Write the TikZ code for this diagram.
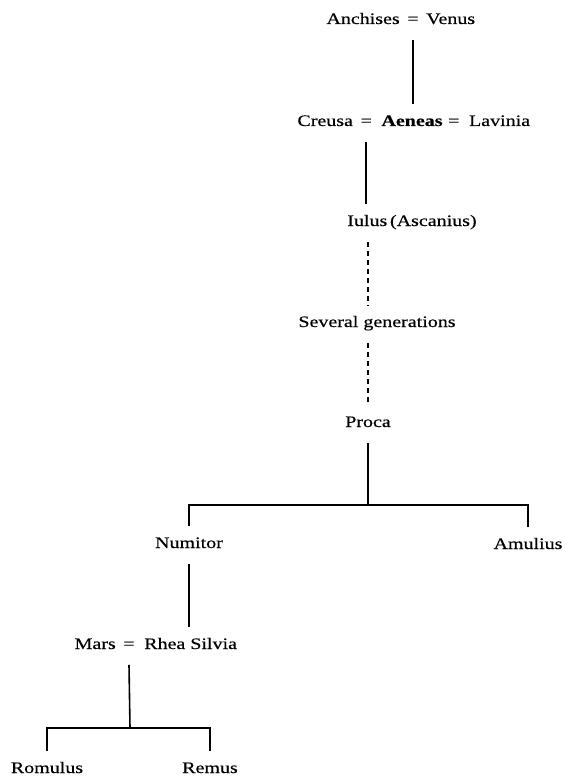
\documentclass[tikz,border=0pt]{standalone}
\usepackage{fontspec}
\setmainfont{Liberation Serif}[FakeStretch=1.25, FakeBold=0.4]
\usetikzlibrary{positioning}

\begin{document}
\begin{tikzpicture}[x=1pt, y=-1pt, line width=1.6pt,
    every node/.style={font=\fontsize{16}{18}\selectfont},
    person/.style={text height=9pt, text depth=3pt, inner xsep=0pt, inner ysep=12pt},
    gens/.style={dash pattern=on 5pt off 4pt}]
      \useasboundingbox (0,0) rectangle (565,778);

      % Top couple
      \node[person] (eqA) at (413,21) {=};
      \node[person, left=6pt of eqA] (anchises) {Anchises};
      \node[person, right=6pt of eqA] (venus) {Venus};

      % Aeneas and his wives
      \node[person] (aeneas) at (412,123) {\textbf{Aeneas}};
      \node[person, left=8pt of aeneas] (eqB) {=};
      \node[person, left=6pt of eqB] (creusa) {Creusa};
      \node[person, right=4pt of aeneas] (eqC) {=};
      \node[person, right=8pt of eqC] (lavinia) {Lavinia};

      % Line of descent
      \node[person] (iulus) at (412,223) {Iulus\,(Ascanius)};
      \node[person] (several) at (377,324) {Several generations};
      \node[person] (proca) at (368,424) {Proca};

      \node[person] (numitor) at (189,545) {Numitor};
      \node[person] (amulius) at (528,546) {Amulius};

      \node[person] (eqD) at (129,646) {=};
      \node[person, left=6pt of eqD] (mars) {Mars};
      \node[person, right=8pt of eqD] (rhea) {Rhea Silvia};

      \node[person] (romulus) at (47,770) {Romulus};
      \node[person] (remus) at (210,770) {Remus};

      \coordinate (forkA) at (368,505);
      \coordinate (forkB) at (130,728);

      % Draw the links
      \draw (eqA.south) -- (eqA.south |- aeneas.north);
      \draw (eqB.south) -- (eqB.south |- iulus.north);
      \draw[gens] (proca.north |- iulus.south) -- (proca.north |- several.north);
      \draw[gens] (proca.north |- several.south) -- (proca.north);

      \draw (proca.south) -- (forkA);
      \draw (numitor.north) -- (numitor.north |- forkA) -- (amulius.north |- forkA) -- (amulius.north);

      \draw (numitor.south) -- (numitor.south |- rhea.north);

      \draw (eqD.south) -- (forkB);
      \draw (romulus.north) -- (romulus.north |- forkB) -- (remus.north |- forkB) -- (remus.north);

    \end{tikzpicture}
\end{document}
